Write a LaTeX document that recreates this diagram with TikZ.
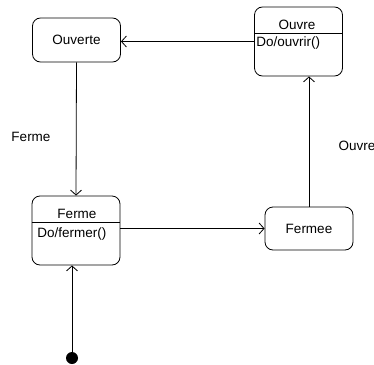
\documentclass[tikz,border=0pt]{standalone}
\usepackage{fontspec}
\setmainfont{Liberation Sans}
\usetikzlibrary{arrows.meta,positioning}
\tikzset{
  etat/.style={draw, rounded corners=8pt, minimum width=88pt, inner sep=0pt},
  trans/.style={-{Straight Barb[length=5pt,width=11pt]}},
}

\begin{document}
\begin{tikzpicture}[x=1pt,y=-1pt,line width=0.8pt,font=\fontsize{13.5}{15}\selectfont]
    \useasboundingbox (0,0) rectangle (374,364);

    \node [etat, minimum height=44pt] (ouverte) at (76.5, 40) {Ouverte};
    \node [etat, minimum height=69pt] (ouvre)   at (298.5, 41.5) {};
    \node [etat, minimum height=69pt] (ferme)   at (76, 230.5) {};
    \node [etat, minimum height=43pt] (fermee)  at (309, 228.5) {Fermee};

    % compartments
    \draw ([yshift=-27pt]ouvre.north west) -- ([yshift=-27pt]ouvre.north east);
    \node (ouvreT) at (297, 25) {Ouvre};
    \node [anchor=west, inner sep=0pt] (ouvreA) at (256, 43) {Do/ouvrir()};
    \draw ([yshift=-27pt]ferme.north west) -- ([yshift=-27pt]ferme.north east);
    \node (fermeT) at (77, 214) {Ferme};
    \node [anchor=west, inner sep=0pt] (fermeA) at (37, 234) {Do/fermer()};

    \node [circle, fill, inner sep=0pt, minimum size=12pt] (init) at (72, 358) {};

    \draw [trans] (ouvre.west) -- (ouvre.west -| ouverte.east);
    \draw [trans] (ouverte.south) -- (ferme.north);
    \draw [trans] (ferme.east |- fermee.west) -- (fermee.west);
    \draw [trans] (fermee.north) -- (fermee.north |- ouvre.south);
    \draw [trans] (init) -- (init |- ferme.south);

    \node (lFerme) at (31, 137) {Ferme};
    \node (lOuvre) at (357, 146) {Ouvre};
\end{tikzpicture}
\end{document}
